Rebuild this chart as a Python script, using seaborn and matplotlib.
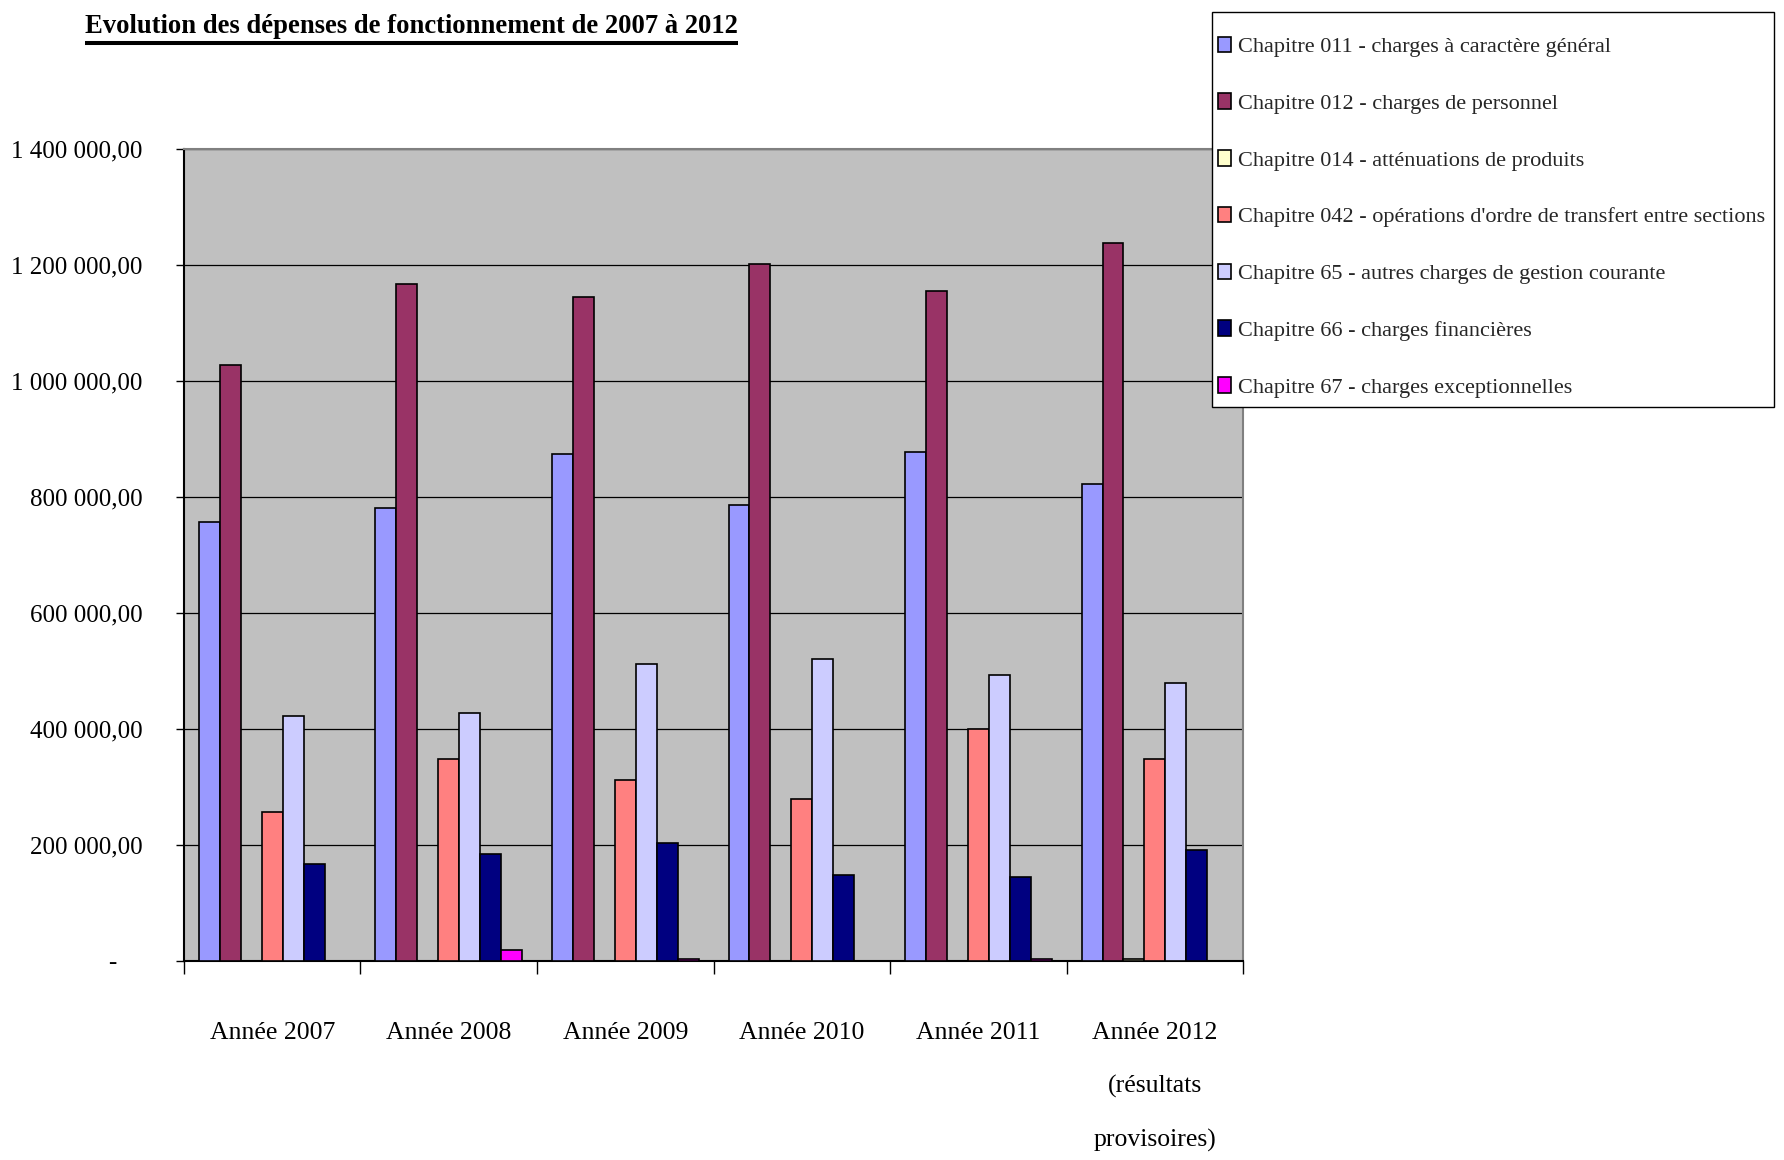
import numpy as np
import pandas as pd
import matplotlib
matplotlib.use("Agg")
import matplotlib.pyplot as plt
from matplotlib.patches import Patch, Rectangle
from matplotlib.lines import Line2D
from matplotlib.ticker import FuncFormatter, MultipleLocator, FixedLocator
import seaborn as sns

# ---- data -------------------------------------------------------------
years = ["Année 2007", "Année 2008", "Année 2009", "Année 2010", "Année 2011",
         "Année 2012\n(résultats\nprovisoires)"]

chapters = [
    "Chapitre 011 - charges à caractère général",
    "Chapitre 012 - charges de personnel",
    "Chapitre 014 - atténuations de produits",
    "Chapitre 042 - opérations d'ordre de transfert entre sections",
    "Chapitre 65 - autres charges de gestion courante",
    "Chapitre 66 - charges financières",
    "Chapitre 67 - charges exceptionnelles",
]

ch011 = [757000, 781000, 874000, 786000, 878000, 823000]
ch012 = [1028000, 1166500, 1144000, 1201000, 1154500, 1238000]
ch014 = [0, 0, 0, 0, 0, 4000]
ch042 = [256000, 349000, 312000, 279000, 400000, 349000]
ch65 = [423000, 428000, 512000, 521000, 493000, 480000]
ch66 = [167000, 185000, 204000, 149000, 145000, 191000]
ch67 = [0, 19000, 4000, 0, 4000, 0]

colors = ["#9999FF", "#993366", "#FFFFCC", "#FF8080", "#CCCCFF", "#000080", "#FF00FF"]

series = [ch011, ch012, ch014, ch042, ch65, ch66, ch67]
df = pd.DataFrame(
    [(y, c, v) for c, vals in zip(chapters, series) for y, v in zip(years, vals)],
    columns=["annee", "chapitre", "montant"],
)

# ---- style ------------------------------------------------------------
sns.set_style("white")
plt.rcParams["font.family"] = ["Liberation Serif", "DejaVu Serif"]

FW, FH = 1784, 1160
fig = plt.figure(figsize=(FW / 100, FH / 100), dpi=100)
ax = fig.add_axes([0.1031, 0.1716, 0.5937, 0.7000])
ax.set_facecolor("#C0C0C0")

sns.barplot(
    data=df, x="annee", y="montant", hue="chapitre",
    order=years, hue_order=chapters, palette=colors, saturation=1,
    edgecolor="black", linewidth=1.2, width=0.83,
    errorbar=None, legend=False, ax=ax, zorder=3,
)

ax.set_xlim(-0.5, len(years) - 0.5)
ax.set_ylim(0, 1400000)
ax.set_xlabel("")
ax.set_ylabel("")

# y axis: French number format, dash for zero
def fr_format(v, pos):
    if abs(v) < 1e-6:
        return "-    "
    s = f"{v:,.2f}"
    return s.replace(",", " ").replace(".", ",")

ax.yaxis.set_major_locator(MultipleLocator(200000))
ax.yaxis.set_major_formatter(FuncFormatter(fr_format))
ax.yaxis.grid(True, color="black", linewidth=0.9)
ax.xaxis.grid(False)
ax.set_axisbelow(True)
ax.tick_params(axis="y", which="major", direction="out", length=5.8, width=1,
               color="black", pad=24, labelsize=18, labelcolor="black", left=True)

# x axis: labels centred on groups, tick marks between groups
ax.set_xticks(range(len(years)))
ax.set_xticklabels(years, linespacing=2.75, va="top")
ax.xaxis.set_minor_locator(FixedLocator(np.arange(-0.5, len(years), 1.0)))
ax.tick_params(axis="x", which="major", length=0, pad=44, labelsize=18.5,
               labelcolor="black", bottom=True)
ax.tick_params(axis="x", which="minor", direction="out", length=9.4, width=1,
               color="black", bottom=True)

for side in ("left", "bottom"):
    ax.spines[side].set_color("black")
    ax.spines[side].set_linewidth(1.5)
for side in ("top", "right"):
    ax.spines[side].set_color("#808080")
    ax.spines[side].set_linewidth(1.5)
    ax.spines[side].set_visible(True)

# ---- legend: white box with black border, entries inside --------------
box = Rectangle((1212 / FW, 1 - 407 / FH), (1774 - 1212) / FW, (407 - 12) / FH,
                transform=fig.transFigure, facecolor="white", edgecolor="black",
                linewidth=1.0, zorder=9)
fig.add_artist(box)

handles = [Patch(facecolor=c, edgecolor="black", linewidth=1.2) for c in colors]
leg = fig.legend(
    handles, chapters,
    loc="upper left", bbox_to_anchor=(1218 / FW, 1 - 36.5 / FH),
    borderaxespad=0, borderpad=0, fontsize=16, frameon=False,
    labelspacing=1.63, handlelength=0.6, handleheight=0.7,
    handletextpad=0.3,
)
leg.set_zorder(10)

# ---- title with underline --------------------------------------------
title = fig.text(85 / FW, 1 - 33 / FH,
                 "Evolution des dépenses de fonctionnement de 2007 à 2012",
                 ha="left", va="baseline", fontsize=19.2, fontweight="bold",
                 color="black")
fig.canvas.draw()
bb = title.get_window_extent()
W = fig.bbox.width
fig.add_artist(Line2D([bb.x0 / W, bb.x1 / W], [1 - 43 / FH, 1 - 43 / FH],
                      transform=fig.transFigure, color="black", linewidth=2.9,
                      solid_capstyle="butt"))

fig.savefig("out.png", dpi=100, facecolor="white")
